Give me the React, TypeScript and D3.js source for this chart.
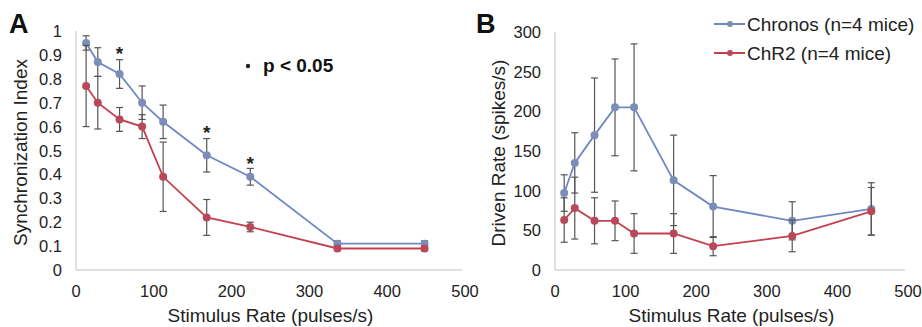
import React from "react";
import * as d3 from "d3";

const rates = [13, 28, 56, 85, 112, 168, 224, 336, 448];
const syncChronos = [0.95, 0.87, 0.82, 0.7, 0.62, 0.48, 0.39, 0.11, 0.11];
const syncChronosErr = [0.03, 0.06, 0.06, 0.07, 0.07, 0.07, 0.035, 0.012, 0.012];
const syncChR2 = [0.77, 0.7, 0.63, 0.6, 0.39, 0.22, 0.18, 0.09, 0.09];
const syncChR2Err = [0.17, 0.11, 0.05, 0.05, 0.145, 0.075, 0.02, 0.01, 0.01];
const sigRates = [56, 168, 224];
const sigLevels = [0.92, 0.59, 0.46];

const driveChronos = [97, 135, 170, 205, 205, 113, 80, 62, 77];
const driveChronosErr = [23, 38, 72, 61, 80, 57, 39, 24, 33];
const driveChR2 = [63, 78, 62, 62, 46, 46, 30, 43, 74];
const driveChR2Err = [28, 39, 29, 25, 25, 25, 12, 20, 30];

const xTicks = [0, 100, 200, 300, 400, 500];
const syncTicks = [0, 0.1, 0.2, 0.3, 0.4, 0.5, 0.6, 0.7, 0.8, 0.9, 1];
const driveTicks = [0, 50, 100, 150, 200, 250, 300];

const BLUE = "#6f88c4";
const BLUE_M = "#7b8db8";
const RED = "#c4404f";
const RED_M = "#b8485a";
const ERR = "#555";
const FONT = "Liberation Sans, Arial, sans-serif";

type Series = { vals: number[]; errs: number[]; line: string; marker: string };

function Panel({
  x0, x1, y0, y1, yMax, yTicks, yFmt, series, yTitle, letter, letterX, yTitleX, tickGap,
  children,
}: any) {
  const x = d3.scaleLinear().domain([0, 500]).range([x0, x1]);
  const y = d3.scaleLinear().domain([0, yMax]).range([y0, y1]);
  const line = d3.line<number>().x((_, i) => x(rates[i])).y((v) => y(v));
  return (
    <g fontFamily={FONT}>
      <line x1={x0} x2={x0} y1={y(yMax)} y2={y0} stroke="#d6d6d6" strokeWidth={1.5} />
      <line x1={x0} x2={x1 - 3} y1={y0} y2={y0} stroke="#d6d6d6" strokeWidth={1.5} />
      {yTicks.map((t: number) => (
        <text key={t} x={x0 - tickGap} y={y(t) + 6} fontSize={16.5} textAnchor="end" fill="#222">
          {yFmt(t)}
        </text>
      ))}
      {xTicks.map((t) => (
        <text key={t} x={x(t)} y={y0 + 27} fontSize={16.5} textAnchor="middle" fill="#222">
          {t}
        </text>
      ))}
      <text x={(x0 + x1) / 2} y={322} fontSize={19} textAnchor="middle" fill="#222">
        Stimulus Rate (pulses/s)
      </text>
      <text
        transform={`translate(${yTitleX},${(y0 + y(yMax)) / 2 + 2}) rotate(-90)`}
        fontSize={19}
        textAnchor="middle"
        fill="#222"
      >
        {yTitle}
      </text>
      <text x={letterX} y={33} fontSize={27} fontWeight="bold" fill="#111">
        {letter}
      </text>
      {series.map((s: Series, si: number) => (
        <g key={si}>
          <path d={line(s.vals) || ""} fill="none" stroke={s.line} strokeWidth={1.8} />
          {s.vals.map((v, i) => {
            const cx = x(rates[i]);
            const top = y(v + s.errs[i]);
            const bot = y(v - s.errs[i]);
            return (
              <g key={i}>
                <line x1={cx} x2={cx} y1={top} y2={bot} stroke={ERR} strokeWidth={1.2} />
                <line x1={cx - 3.5} x2={cx + 3.5} y1={top} y2={top} stroke={ERR} strokeWidth={1.2} />
                <line x1={cx - 3.5} x2={cx + 3.5} y1={bot} y2={bot} stroke={ERR} strokeWidth={1.2} />
                <circle cx={cx} cy={y(v)} r={4} fill={s.marker} />
              </g>
            );
          })}
        </g>
      ))}
      {children && children(x, y)}
    </g>
  );
}

export default function App() {
  return (
    <svg width={922} height={327} style={{ position: "absolute", left: 0, top: 0, background: "#fff" }}>
      <rect width={922} height={327} fill="#fff" />
      <Panel
        x0={76}
        x1={465}
        y0={270}
        y1={31}
        yMax={1}
        yTicks={syncTicks}
        yFmt={(t: number) => (t === 0 || t === 1 ? String(t) : t.toFixed(1))}
        yTitle="Synchronization Index"
        yTitleX={27}
        tickGap={14}
        letter="A"
        letterX={9}
        series={[
          { vals: syncChronos, errs: syncChronosErr, line: BLUE, marker: BLUE_M },
          { vals: syncChR2, errs: syncChR2Err, line: RED, marker: RED_M },
        ]}
      >
        {(x: any, y: any) => (
          <g>
            {sigRates.map((r, i) => (
              <text key={r} x={x(r)} y={y(sigLevels[i]) + 10} fontSize={19} fontWeight="bold" textAnchor="middle" fill="#222">
                *
              </text>
            ))}
            <circle cx={248} cy={66} r={2.2} fill="#222" />
            <text x={263} y={72} fontSize={19} fontWeight="bold" fill="#111">
              p &lt; 0.05
            </text>
          </g>
        )}
      </Panel>
      <Panel
        x0={555}
        x1={908}
        y0={270}
        y1={32}
        yMax={300}
        yTicks={driveTicks}
        yFmt={(t: number) => String(t)}
        yTitle="Driven Rate (spikes/s)"
        yTitleX={505}
        tickGap={14}
        letter="B"
        letterX={476}
        series={[
          { vals: driveChronos, errs: driveChronosErr, line: BLUE, marker: BLUE_M },
          { vals: driveChR2, errs: driveChR2Err, line: RED, marker: RED_M },
        ]}
      />
      <g fontFamily={FONT}>
        <line x1={714} x2={745} y1={24} y2={24} stroke={BLUE} strokeWidth={2} />
        <circle cx={730} cy={24} r={3} fill={BLUE_M} />
        <text x={747} y={31} fontSize={19} fill="#222">Chronos (n=4 mice)</text>
        <line x1={714} x2={745} y1={53} y2={53} stroke={RED} strokeWidth={2} />
        <circle cx={730} cy={53} r={3} fill={RED_M} />
        <text x={747} y={60} fontSize={19} fill="#222">ChR2 (n=4 mice)</text>
      </g>
    </svg>
  );
}
